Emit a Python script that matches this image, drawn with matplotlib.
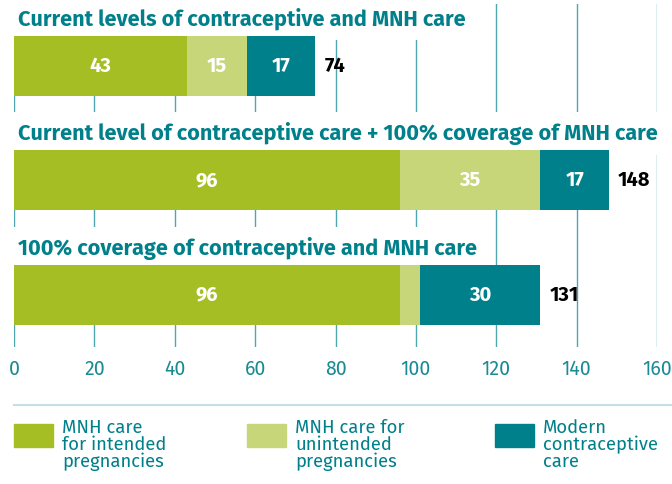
import matplotlib
matplotlib.use("Agg")
import matplotlib.pyplot as plt
from matplotlib.patches import Rectangle
from matplotlib.lines import Line2D

scenarios = [
    "Current levels of contraceptive and MNH care",
    "Current level of contraceptive care + 100% coverage of MNH care",
    "100% coverage of contraceptive and MNH care",
]
mnh_intended = [43, 96, 96]
mnh_unintended = [15, 35, 5]
contraceptive = [17, 17, 30]
totals = [74, 148, 131]
show_unintended_label = [True, True, False]

series_names = ["MNH care\nfor intended\npregnancies",
                "MNH care for\nunintended\npregnancies",
                "Modern\ncontraceptive\ncare"]
colors = ["#a4be24", "#c8d67a", "#00808a"]
teal_text = "#00808a"
grid_color = "#4fa6b0"
tick_color = "#1a8a93"

BOLD = ["Fira Sans", "DejaVu Sans"]
REG = ["Fira Sans", "DejaVu Sans"]

W, H = 672, 484
fig = plt.figure(figsize=(W / 100, H / 100), dpi=100)
ax = fig.add_axes([14 / W, (H - 347) / H, (657 - 14) / W, (347 - 4) / H])
ax.set_xlim(0, 160)
ax.set_ylim(2.454, -0.541)

for x in range(0, 161, 20):
    ax.axvline(x, color=grid_color, lw=1, zorder=0)

ypos = list(range(len(scenarios)))
bar_h = 0.524
left = [0] * 3
for vals, col in zip([mnh_intended, mnh_unintended, contraceptive], colors):
    ax.barh(ypos, vals, left=left, height=bar_h, color=col, zorder=4)
    for i, v in enumerate(vals):
        if col == colors[1] and not show_unintended_label[i]:
            continue
        ax.text(left[i] + v / 2, ypos[i], str(v), ha="center", va="center",
                color="white", fontsize=14.5, fontweight="bold",
                family=BOLD, zorder=5)
    left = [l + v for l, v in zip(left, vals)]

for i, (t, tot) in enumerate(zip(scenarios, totals)):
    ax.text(left[i] + 2.3, ypos[i], str(tot), ha="left", va="center",
            color="black", fontsize=14.5, fontweight="bold",
            family=BOLD, zorder=5)
    ax.text(1.0, ypos[i] - 0.41, t, ha="left", va="center", color=teal_text,
            fontsize=15.6, fontweight="bold", family=BOLD, zorder=3,
            bbox=dict(facecolor="white", edgecolor="none",
                      boxstyle="square,pad=0.45"))

ax.set_xticks(range(0, 161, 20))
ax.set_yticks([])
ax.tick_params(axis="x", length=0, pad=9, labelsize=14, labelcolor=tick_color)
for lab in ax.get_xticklabels():
    lab.set_family(REG)
    lab.set_fontweight("normal")
for s in ax.spines.values():
    s.set_visible(False)

# legend
fig.add_artist(Line2D([14 / W, 1], [1 - 405 / H] * 2, color="#c5e0e3", lw=1.5))
patch_x = [14, 247, 495]
for px, name, col in zip(patch_x, series_names, colors):
    fig.add_artist(Rectangle((px / W, 1 - 447 / H), 39 / W, 23 / H,
                             color=col, transform=fig.transFigure))
    fig.text((px + 48) / W, 1 - 419 / H, name, ha="left", va="top",
             color=teal_text, fontsize=13.3, family=REG, fontweight="normal",
             linespacing=0.92)

fig.savefig("out.png", dpi=100)
